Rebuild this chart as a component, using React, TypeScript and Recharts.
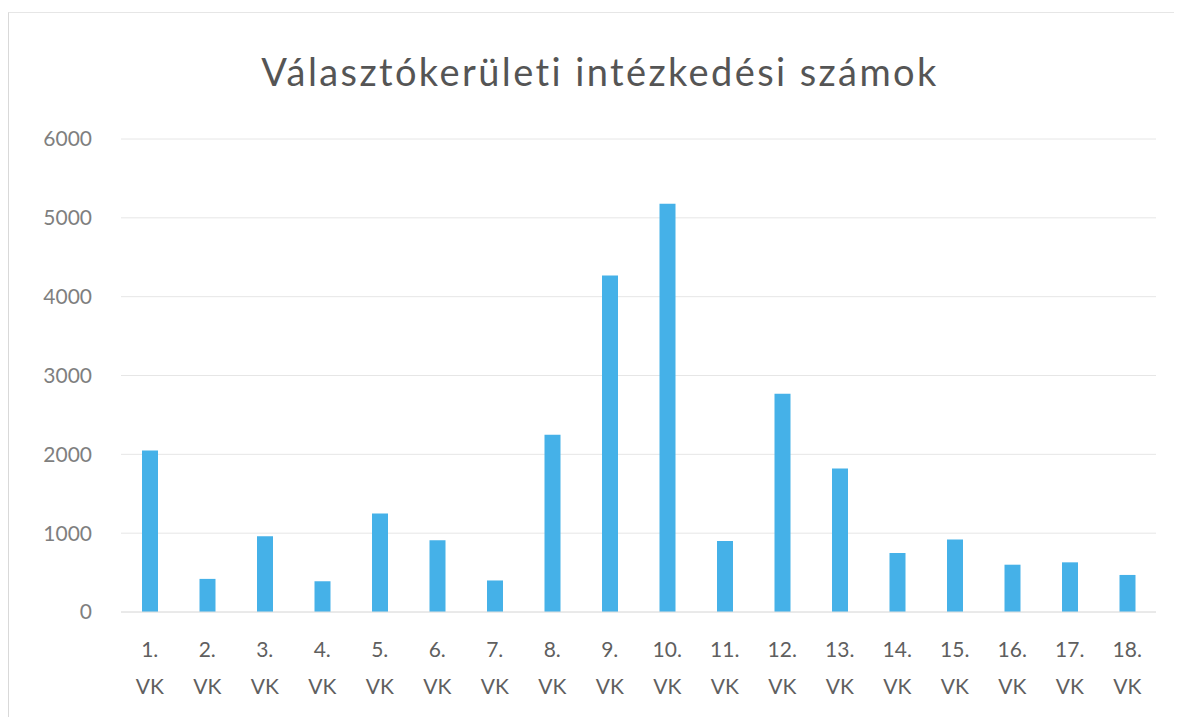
import React from "react";
import { BarChart, Bar, XAxis, YAxis, CartesianGrid } from "recharts";

const districts = [
  "1.", "2.", "3.", "4.", "5.", "6.", "7.", "8.", "9.",
  "10.", "11.", "12.", "13.", "14.", "15.", "16.", "17.", "18.",
];
const counts = [
  2050, 420, 960, 390, 1250, 910, 400, 2250, 4270,
  5180, 900, 2770, 1820, 750, 920, 600, 630, 470,
];
const yTicks = [0, 1000, 2000, 3000, 4000, 5000, 6000];

const data = districts.map((d, i) => ({ name: d, value: counts[i] }));

const FONT = "Lato, 'Open Sans', sans-serif";

function TwoLineTick(props: any) {
  const { x, y, payload } = props;
  return (
    <text
      x={x}
      y={y}
      textAnchor="middle"
      fill="#5f5f5f"
      fontSize={21}
      fontFamily={FONT}
    >
      <tspan x={x} dy={37}>
        {payload.value}
      </tspan>
      <tspan x={x} dy={37}>
        VK
      </tspan>
    </text>
  );
}

export default function App() {
  return (
    <div
      style={{
        position: "relative",
        width: 1170,
        height: 710,
        background: "#fff",
        fontFamily: FONT,
      }}
    >
      <div
        style={{
          position: "absolute",
          left: 0,
          top: 4,
          width: 1166,
          height: 704,
          borderLeft: "1px solid #d9d9d9",
          borderTop: "1px solid #e6e6e6",
        }}
      />
      <div
        style={{
          position: "absolute",
          top: 40,
          left: 0,
          width: 1184,
          textAlign: "center",
          fontSize: 38,
          letterSpacing: 2.4,
          color: "#555555",
        }}
      >
        Választókerületi intézkedési számok
      </div>
      <BarChart
        width={1170}
        height={710}
        data={data}
        margin={{ top: 131, right: 22, bottom: 26, left: 33 }}
        barSize={16}
      >
        <CartesianGrid vertical={false} stroke="#e6e6e6" />
        <XAxis
          dataKey="name"
          height={80}
          axisLine={{ stroke: "#e0e0e0" }}
          tickLine={false}
          interval={0}
          tick={<TwoLineTick />}
        />
        <YAxis
          width={80}
          domain={[0, 6000]}
          ticks={yTicks}
          axisLine={false}
          tickLine={false}
          tickSize={0}
          tickMargin={29}
          tick={{ fontSize: 21, fill: "#7f7f7f", fontFamily: FONT }}
        />
        <Bar dataKey="value" fill="#45b1e8" isAnimationActive={false} />
      </BarChart>
    </div>
  );
}
